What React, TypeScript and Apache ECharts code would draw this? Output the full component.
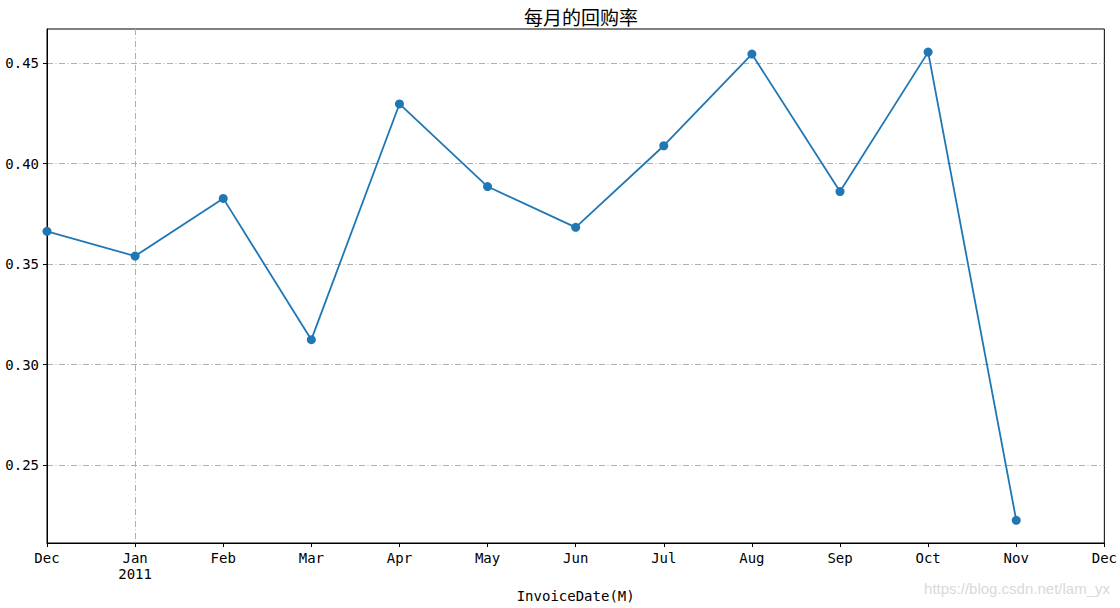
import React, { useEffect, useRef } from "react";
import * as echarts from "echarts";

const monthLabels = ["Dec", "Jan\n2011", "Feb", "Mar", "Apr", "May", "Jun", "Jul", "Aug", "Sep", "Oct", "Nov", "Dec"];
const repurchaseRate = [0.3663, 0.354, 0.3827, 0.3124, 0.4297, 0.3886, 0.3683, 0.4089, 0.4545, 0.3861, 0.4555, 0.2225];
const yTickValues = [0.25, 0.3, 0.35, 0.4, 0.45];
const titleText = "每月的回购率";
const xAxisName = "InvoiceDate(M)";
const watermark = "https://blog.csdn.net/lam_yx";

const monoFont = "'DejaVu Sans Mono', 'Noto Sans CJK SC', monospace";
const dashDot = [6, 2.5, 1, 2.5];

export default function App() {
  const ref = useRef<HTMLDivElement>(null);
  useEffect(() => {
    if (!ref.current) return;
    const chart = echarts.init(ref.current, null, { renderer: "svg" });
    chart.setOption({
      animation: false,
      backgroundColor: "#ffffff",
      title: {
        text: titleText,
        left: 576,
        textAlign: "center",
        top: 2,
        textStyle: { fontFamily: "'Noto Sans CJK SC', sans-serif", fontSize: 19, fontWeight: "normal", color: "#000" },
      },
      grid: { left: 47, right: 15, top: 29, bottom: 62.5, show: true, borderColor: "#000", borderWidth: 1, backgroundColor: "transparent" },
      xAxis: {
        type: "category",
        data: monthLabels,
        boundaryGap: false,
        name: xAxisName,
        nameLocation: "middle",
        nameGap: 46,
        nameTextStyle: { fontFamily: monoFont, fontSize: 14, color: "#000" },
        axisLine: { lineStyle: { color: "#000", width: 1 } },
        axisTick: { show: true, length: 4, inside: false, alignWithLabel: true, interval: 0, lineStyle: { color: "#000" } },
        axisLabel: { interval: 0, margin: 7, fontFamily: monoFont, fontSize: 14, color: "#000", lineHeight: 16 },
        splitLine: {
          show: true,
          interval: (index: number) => index === 1,
          lineStyle: { color: "#b0b0b0", width: 1, type: dashDot },
        },
      },
      yAxis: {
        type: "value",
        min: 0.2112,
        max: 0.467,
        axisLine: { show: true, lineStyle: { color: "#000", width: 1 } },
        axisTick: { show: true, length: 4, customValues: yTickValues, lineStyle: { color: "#000" } },
        axisLabel: {
          customValues: yTickValues,
          margin: 8,
          fontFamily: monoFont,
          fontSize: 14,
          color: "#000",
          formatter: (v: number) => v.toFixed(2),
        },
        splitLine: { show: true, lineStyle: { color: "#b0b0b0", width: 1, type: dashDot } },
      },
      graphic: [
        {
          type: "text",
          right: 10,
          top: 581,
          style: { text: watermark, fontFamily: "'Liberation Sans', Arial, sans-serif", fontSize: 15, fill: "#d9d9d9" },
        },
      ],
      series: [
        {
          type: "line",
          data: repurchaseRate,
          symbol: "circle",
          symbolSize: 9,
          showSymbol: true,
          lineStyle: { color: "#1f77b4", width: 1.8 },
          itemStyle: { color: "#1f77b4" },
          clip: false,
        },
      ],
    });
    return () => chart.dispose();
  }, []);
  return <div ref={ref} style={{ position: "fixed", left: 0, top: 0, width: 1120, height: 608 }} />;
}
